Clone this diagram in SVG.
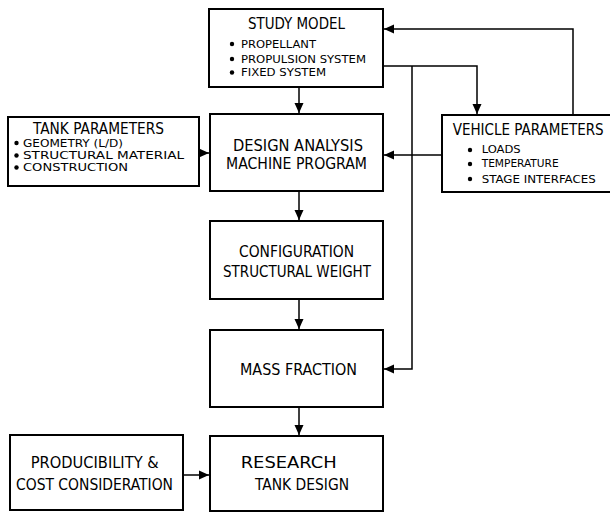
<svg xmlns="http://www.w3.org/2000/svg" width="610" height="513" viewBox="0 0 610 513">
<style>
.box{fill:#fff;stroke:#000;stroke-width:2}
.ln{fill:none;stroke:#000;stroke-width:1.5}
text{font-family:"DejaVu Sans Condensed","Liberation Sans Narrow","Liberation Sans",sans-serif;fill:#000}
.t{font-size:15.5px}
.s{font-size:10.5px}
.d{fill:#000}
</style>
<defs>
<marker id="ah" markerUnits="userSpaceOnUse" markerWidth="10" markerHeight="10" viewBox="0 0 10 10" refX="10" refY="5" orient="auto">
<path d="M0,0.5 L10,5 L0,9.5 Z" fill="#000"/>
</marker>
</defs>
<rect width="610" height="513" fill="#fff"/>
<g id="connectors">
<line class="ln" x1="299" y1="88" x2="299" y2="113" marker-end="url(#ah)"/>
<line class="ln" x1="299" y1="192" x2="299" y2="220" marker-end="url(#ah)"/>
<line class="ln" x1="299" y1="300" x2="299" y2="329" marker-end="url(#ah)"/>
<line class="ln" x1="299" y1="408" x2="299" y2="435" marker-end="url(#ah)"/>
<line class="ln" x1="200" y1="153" x2="209" y2="153" marker-end="url(#ah)"/>
<line class="ln" x1="441" y1="155" x2="384" y2="155" marker-end="url(#ah)"/>
<polyline class="ln" points="573,114 573,29 384,29" marker-end="url(#ah)"/>
<polyline class="ln" points="384,66 477,66 477,114" marker-end="url(#ah)"/>
<polyline class="ln" points="412,66 412,369 384,369" marker-end="url(#ah)"/>
<line class="ln" x1="184" y1="475" x2="209" y2="475" marker-end="url(#ah)"/>
</g>
<g id="study-model">
<rect class="box" x="209" y="9" width="174" height="78"/>
<text class="t" x="248" y="29" textLength="97" lengthAdjust="spacingAndGlyphs">STUDY MODEL</text>
<circle class="d" cx="232" cy="44" r="2.2"/>
<circle class="d" cx="232" cy="59" r="2.2"/>
<circle class="d" cx="232" cy="72.5" r="2.2"/>
<text class="s" x="241" y="47.5" textLength="75" lengthAdjust="spacingAndGlyphs">PROPELLANT</text>
<text class="s" x="241" y="62.5" textLength="125" lengthAdjust="spacingAndGlyphs">PROPULSION SYSTEM</text>
<text class="s" x="241" y="76" textLength="85" lengthAdjust="spacingAndGlyphs">FIXED SYSTEM</text>
</g>
<g id="tank-parameters">
<rect class="box" x="8" y="117" width="191" height="69"/>
<text class="t" x="33" y="134" textLength="131" lengthAdjust="spacingAndGlyphs">TANK PARAMETERS</text>
<circle class="d" cx="16.5" cy="143" r="2.2"/>
<circle class="d" cx="16.5" cy="155.5" r="2.2"/>
<circle class="d" cx="16.5" cy="167.5" r="2.2"/>
<text class="s" x="23" y="146.7" textLength="100" lengthAdjust="spacingAndGlyphs">GEOMETRY (L/D)</text>
<text class="s" x="23" y="159.3" textLength="161" lengthAdjust="spacingAndGlyphs">STRUCTURAL MATERIAL</text>
<text class="s" x="23" y="171" textLength="105" lengthAdjust="spacingAndGlyphs">CONSTRUCTION</text>
</g>
<g id="vehicle-parameters">
<rect class="box" x="442" y="115" width="172" height="77"/>
<text class="t" x="452.7" y="135" textLength="151" lengthAdjust="spacingAndGlyphs">VEHICLE PARAMETERS</text>
<circle class="d" cx="470" cy="150" r="2.2"/>
<circle class="d" cx="470" cy="164" r="2.2"/>
<circle class="d" cx="470" cy="179" r="2.2"/>
<text class="s" x="481.7" y="153.3" textLength="39" lengthAdjust="spacingAndGlyphs">LOADS</text>
<text class="s" x="481.7" y="167.3" textLength="77" lengthAdjust="spacingAndGlyphs">TEMPERATURE</text>
<text class="s" x="481.7" y="182.7" textLength="114" lengthAdjust="spacingAndGlyphs">STAGE INTERFACES</text>
</g>
<g id="design-analysis">
<rect class="box" x="210" y="114" width="173" height="77"/>
<text class="t" x="233" y="150.7" textLength="130" lengthAdjust="spacingAndGlyphs">DESIGN ANALYSIS</text>
<text class="t" x="226" y="169.3" textLength="141" lengthAdjust="spacingAndGlyphs">MACHINE PROGRAM</text>
</g>
<g id="configuration">
<rect class="box" x="210" y="221" width="173" height="78"/>
<text class="t" x="239" y="256.7" textLength="115" lengthAdjust="spacingAndGlyphs">CONFIGURATION</text>
<text class="t" x="223" y="276.7" textLength="148" lengthAdjust="spacingAndGlyphs">STRUCTURAL WEIGHT</text>
</g>
<g id="mass-fraction">
<rect class="box" x="210" y="330" width="173" height="77"/>
<text class="t" x="240" y="375" textLength="117" lengthAdjust="spacingAndGlyphs">MASS FRACTION</text>
</g>
<g id="research-tank-design">
<rect class="box" x="210" y="436" width="173" height="75"/>
<text class="t" x="240.7" y="468.3" textLength="96" lengthAdjust="spacingAndGlyphs">RESEARCH</text>
<text class="t" x="255" y="490" textLength="94" lengthAdjust="spacingAndGlyphs">TANK DESIGN</text>
</g>
<g id="producibility">
<rect class="box" x="10" y="435" width="173" height="75"/>
<text class="t" x="30.7" y="468" textLength="128" lengthAdjust="spacingAndGlyphs">PRODUCIBILITY &amp;</text>
<text class="t" x="16" y="490" textLength="157" lengthAdjust="spacingAndGlyphs">COST CONSIDERATION</text>
</g>
</svg>
